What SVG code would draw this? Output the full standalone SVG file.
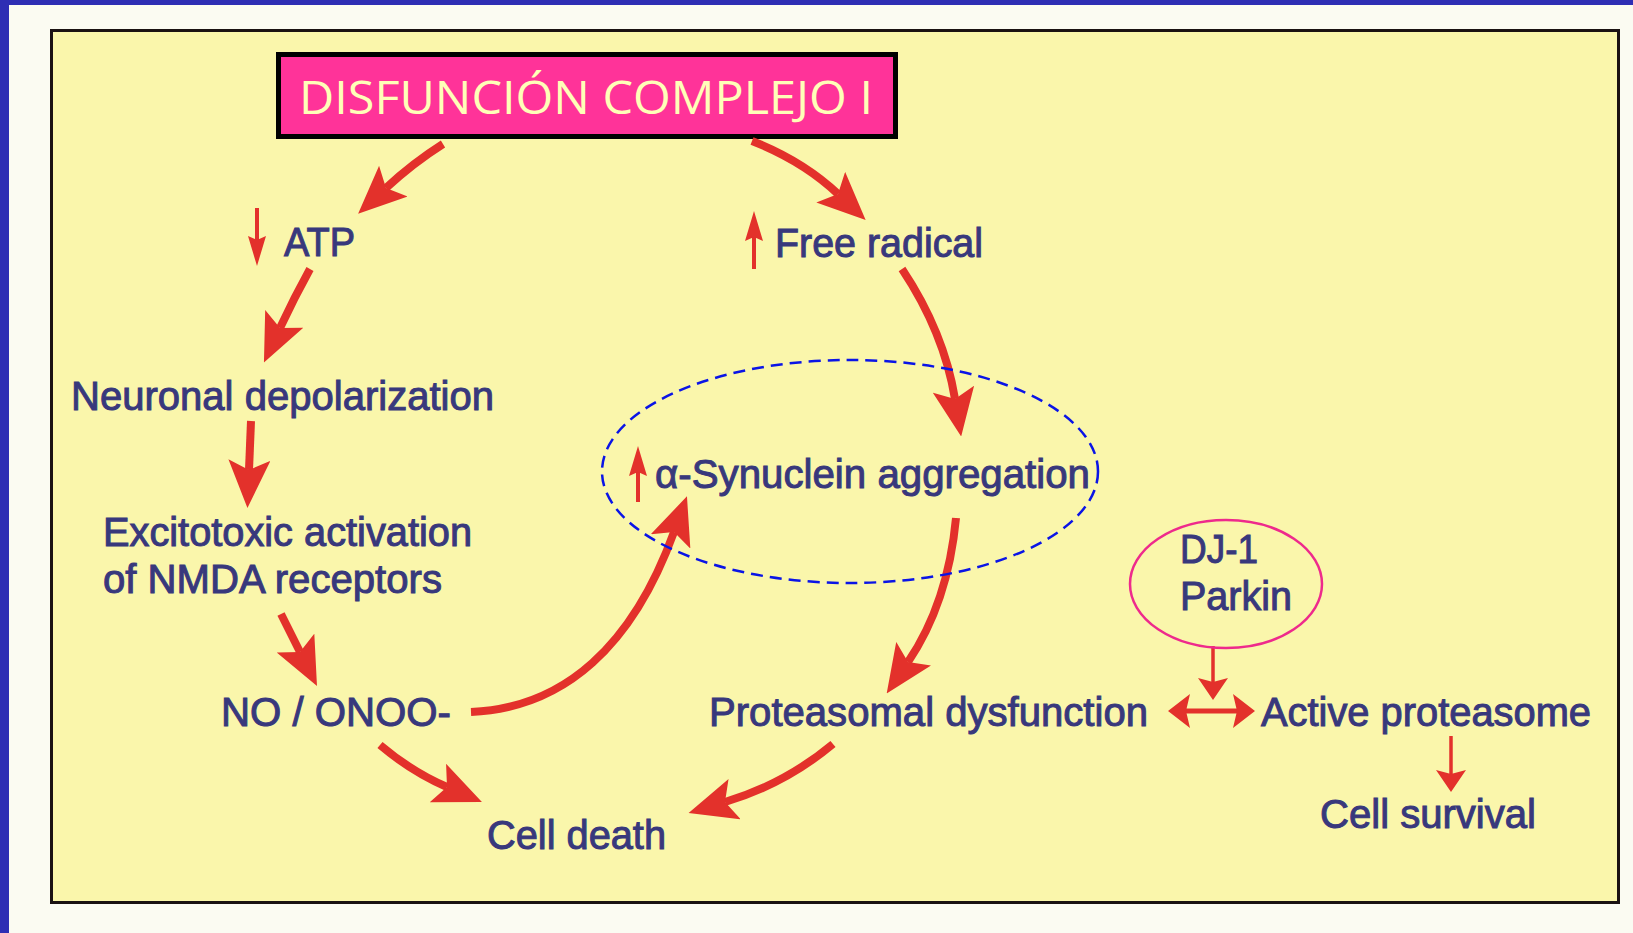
<svg xmlns="http://www.w3.org/2000/svg" width="1633" height="933" viewBox="0 0 1633 933">
<style>
.lbl{font-family:"Liberation Sans",Arial,sans-serif;font-size:40px;fill:#38387c;stroke:#38387c;stroke-width:1}
.big{fill:none;stroke:#e3312b;stroke-width:8;stroke-linecap:butt}
.thin{fill:none;stroke:#e3312b;stroke-width:4}
.mid{fill:none;stroke:#e3312b;stroke-width:3.5}
.dbl{fill:none;stroke:#e3312b;stroke-width:5}
.arrowhead{fill:#e3312b}
</style>
<defs>
<marker id="mBig" viewBox="0 0 48 42" refX="10" refY="21" markerWidth="48" markerHeight="42" orient="auto" markerUnits="userSpaceOnUse"><path class="arrowhead" d="M0,0 L48,21 L0,42 L10,21 z"/></marker>
<marker id="mSmall" viewBox="0 0 30 18" refX="4" refY="9" markerWidth="30" markerHeight="18" orient="auto" markerUnits="userSpaceOnUse"><path class="arrowhead" d="M0,0 L30,9 L0,18 L4,9 z"/></marker>
<marker id="mMid" viewBox="0 0 22 30" refX="4" refY="15" markerWidth="22" markerHeight="30" orient="auto" markerUnits="userSpaceOnUse"><path class="arrowhead" d="M0,0 L22,15 L0,30 L4,15 z"/></marker>
<marker id="mDbl" viewBox="0 0 22 34" refX="4" refY="17" markerWidth="22" markerHeight="34" orient="auto-start-reverse" markerUnits="userSpaceOnUse"><path class="arrowhead" d="M0,0 L22,17 L0,34 L4,17 z"/></marker>
</defs>
<rect x="0" y="0" width="1633" height="933" fill="#fbfbf2"/>
<rect x="0" y="0" width="1633" height="5" fill="#2e2eb4"/>
<rect x="0" y="0" width="9" height="933" fill="#2e2eb4"/>
<rect x="51.5" y="30.5" width="1567" height="872" fill="#faf6ab" stroke="#1a1212" stroke-width="3"/>

<g id="title">
<rect x="278.5" y="54.5" width="617" height="82" fill="#ff3399" stroke="#000" stroke-width="5"/>
<text x="299" y="114" font-family="'Open Sans','Noto Sans',sans-serif" font-size="46" fill="#ffffb8" textLength="574" lengthAdjust="spacingAndGlyphs">DISFUNCIÓN COMPLEJO I</text>
</g>

<g id="connectors">
<path class="big" marker-end="url(#mBig)" d="M443,144 Q413,163 386,188"/>
<path class="big" marker-end="url(#mBig)" d="M752,141 Q803,161 838,194"/>
<path class="big" marker-end="url(#mBig)" d="M310,269 Q294,298 280,328"/>
<path class="big" marker-end="url(#mBig)" d="M251,421 L249,470"/>
<path class="big" marker-end="url(#mBig)" d="M281,614 L300,652"/>
<path class="big" marker-end="url(#mBig)" d="M471,712 C565,708 633,645 674,532"/>
<path class="big" marker-end="url(#mBig)" d="M380,745 Q412,772 447,787"/>
<path class="big" marker-end="url(#mBig)" d="M902,269 Q944,332 955,399"/>
<path class="big" marker-end="url(#mBig)" d="M956,518 Q948,603 908,662"/>
<path class="big" marker-end="url(#mBig)" d="M833,744 Q785,784 725,802"/>
<path class="thin" marker-end="url(#mSmall)" d="M257,208 L257,240"/>
<path class="thin" marker-end="url(#mSmall)" d="M754,269 L754,237"/>
<path class="thin" marker-end="url(#mSmall)" d="M638,502 L638,472"/>
<path class="mid" marker-end="url(#mMid)" d="M1213,646 L1213,682"/>
<path class="mid" marker-end="url(#mMid)" d="M1451,736 L1451,774"/>
<path class="dbl" marker-start="url(#mDbl)" marker-end="url(#mDbl)" d="M1186,711 L1237,711"/>
</g>

<g id="atp"><text class="lbl" x="284" y="256" textLength="71" lengthAdjust="spacingAndGlyphs">ATP</text></g>
<g id="free-radical"><text class="lbl" x="775" y="257" textLength="208" lengthAdjust="spacingAndGlyphs">Free radical</text></g>
<g id="neuronal-depolarization"><text class="lbl" x="71" y="410" textLength="423" lengthAdjust="spacingAndGlyphs">Neuronal depolarization</text></g>
<g id="excitotoxic">
<text class="lbl" x="103" y="546" textLength="369" lengthAdjust="spacingAndGlyphs">Excitotoxic activation</text>
<text class="lbl" x="103" y="593" textLength="339" lengthAdjust="spacingAndGlyphs">of NMDA receptors</text>
</g>
<g id="no-onoo"><text class="lbl" x="221" y="726" textLength="230" lengthAdjust="spacingAndGlyphs">NO / ONOO-</text></g>
<g id="cell-death"><text class="lbl" x="487" y="849" textLength="179" lengthAdjust="spacingAndGlyphs">Cell death</text></g>
<g id="synuclein">
<ellipse cx="850" cy="471.5" rx="248" ry="111.5" fill="none" stroke="#0a14e6" stroke-width="2.5" stroke-dasharray="12 7"/>
<text class="lbl" x="655" y="488" textLength="435" lengthAdjust="spacingAndGlyphs">α-Synuclein aggregation</text>
</g>
<g id="proteasomal-dysfunction"><text class="lbl" x="709" y="726" textLength="439" lengthAdjust="spacingAndGlyphs">Proteasomal dysfunction</text></g>
<g id="dj1-parkin">
<ellipse cx="1226" cy="584" rx="96" ry="64" fill="none" stroke="#ee2a8c" stroke-width="2.5"/>
<text class="lbl" x="1180" y="563" textLength="78" lengthAdjust="spacingAndGlyphs">DJ-1</text>
<text class="lbl" x="1180" y="610" textLength="112" lengthAdjust="spacingAndGlyphs">Parkin</text>
</g>
<g id="active-proteasome"><text class="lbl" x="1261" y="726" textLength="330" lengthAdjust="spacingAndGlyphs">Active proteasome</text></g>
<g id="cell-survival"><text class="lbl" x="1320" y="828" textLength="216" lengthAdjust="spacingAndGlyphs">Cell survival</text></g>
</svg>
